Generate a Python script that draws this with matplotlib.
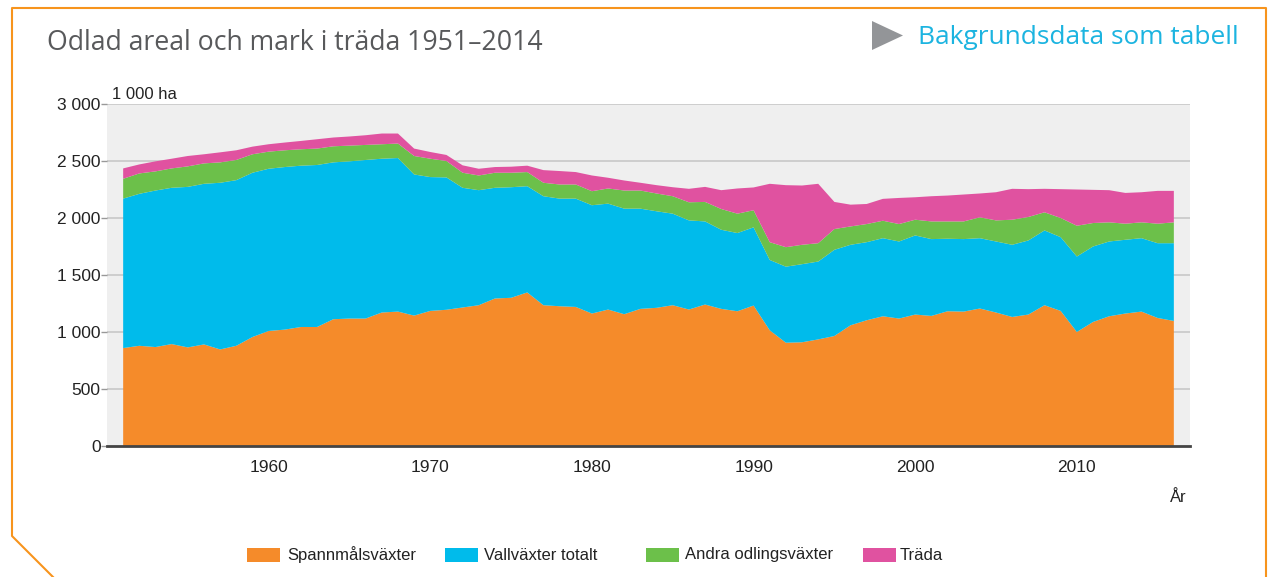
import matplotlib
matplotlib.use("Agg")
import matplotlib.pyplot as plt
from matplotlib.lines import Line2D
from matplotlib.patches import Rectangle, Polygon
import numpy as np

years = list(range(1951, 2017))

spannmal = [859, 879, 868, 894, 865, 891, 847, 879, 956, 1009,
            1021, 1044, 1044, 1112, 1118, 1118, 1171, 1179, 1144, 1185,
            1195, 1215, 1235, 1294, 1300, 1347, 1235, 1226, 1220, 1162,
            1197, 1156, 1203, 1212, 1235, 1197, 1241, 1203, 1182, 1232,
            1015, 906, 910, 935, 965, 1059, 1103, 1138, 1118, 1153,
            1141, 1182, 1179, 1206, 1171, 1132, 1153, 1235, 1185, 1000,
            1088, 1138, 1162, 1179, 1123, 1097]

vall = [1311, 1333, 1373, 1371, 1408, 1409, 1462, 1453, 1441, 1423,
        1426, 1415, 1421, 1376, 1379, 1391, 1349, 1347, 1238, 1174,
        1161, 1050, 1009, 971, 970, 932, 956, 944, 950, 950,
        929, 926, 879, 847, 803, 782, 729, 694, 686, 686,
        617, 667, 685, 683, 756, 706, 685, 685, 676, 694,
        674, 636, 636, 617, 623, 633, 650, 656, 647, 662,
        662, 656, 647, 644, 656, 682]

andra = [174, 179, 168, 170, 180, 179, 179, 177, 162, 150,
         147, 144, 144, 141, 138, 132, 127, 127, 162, 161,
         144, 132, 129, 132, 127, 124, 118, 124, 124, 123,
         133, 159, 159, 156, 153, 159, 171, 182, 170, 150,
         156, 171, 170, 161, 182, 161, 159, 153, 153, 138,
         155, 152, 155, 183, 185, 220, 206, 159, 168, 270,
         206, 168, 141, 139, 171, 183]

trada = [91, 79, 88, 85, 91, 80, 88, 85, 67, 65,
         68, 73, 82, 77, 80, 85, 94, 88, 65, 59,
         53, 65, 59, 50, 53, 56, 111, 118, 109, 138,
         94, 88, 68, 73, 79, 118, 132, 165, 221, 200,
         512, 544, 520, 521, 238, 191, 176, 192, 229, 197,
         221, 227, 236, 209, 247, 271, 244, 206, 253, 318,
         291, 282, 270, 264, 288, 276]

series_names = ["Spannmålsväxter", "Vallväxter totalt", "Andra odlingsväxter", "Träda"]
colors = ["#F58B2A", "#00BBEB", "#6CC04A", "#E052A0"]

yticks = [0, 500, 1000, 1500, 2000, 2500, 3000]
ytick_labels = ["0", "500", "1 000", "1 500", "2 000", "2 500", "3 000"]
xticks = [1960, 1970, 1980, 1990, 2000, 2010]

title = "Odlad areal och mark i träda 1951–2014"
link_text = "Bakgrundsdata som tabell"
unit_label = "1 000 ha"
x_label = "År"

W, H = 1272, 577
fig = plt.figure(figsize=(W / 100, H / 100), dpi=100)
fig.patch.set_facecolor("white")

def fx(px):
    return px / W

def fy(py):
    return 1 - py / H

ax = fig.add_axes([fx(107), fy(446), fx(1190) - fx(107), fy(104) - fy(446)])
ax.set_facecolor("#EFEFEF")
ax.stackplot(years, spannmal, vall, andra, trada, colors=colors, linewidth=0, zorder=2)
ax.set_xlim(1950.0, 2017.0)
ax.set_ylim(0, 3000)

ax.set_yticks(yticks)
ax.set_yticklabels(ytick_labels)
ax.set_xticks(xticks)
ax.set_xticklabels([str(x) for x in xticks])
for v in yticks[1:]:
    ax.axhline(v, color="#C8C8C8", linewidth=1.2, zorder=1)

for s in ["top", "right", "left"]:
    ax.spines[s].set_visible(False)
ax.spines["bottom"].set_color("#444444")
ax.spines["bottom"].set_linewidth(2)
ax.spines["bottom"].set_zorder(5)

ax.tick_params(axis="y", length=4, width=1, color="#999999", pad=0.5,
               labelsize=12.5, labelcolor="#222222")
ax.tick_params(axis="x", length=0, pad=10, labelsize=12.5, labelcolor="#222222")
for lab in ax.get_xticklabels() + ax.get_yticklabels():
    lab.set_fontfamily("Liberation Sans")

# unit label
fig.text(fx(112), fy(95), unit_label, fontsize=12, family="Liberation Sans",
         color="#222222", va="center", ha="left")
# x label
fig.text(fx(1178), fy(498), x_label, fontsize=12, family="Liberation Sans",
         color="#222222", va="center", ha="center")

# title
fig.text(fx(47), fy(43), title, fontsize=19.2, family="Open Sans",
         color="#58595B", va="center", ha="left")

# link
tri = Polygon([[fx(872), fy(21)], [fx(872), fy(50)], [fx(903), fy(35.5)]],
              closed=True, transform=fig.transFigure, facecolor="#939598",
              edgecolor="none")
fig.patches.append(tri)
fig.text(fx(918), fy(37), link_text, fontsize=18.9, family="Open Sans",
         color="#1CB4E0", va="center", ha="left")

# frame
frame_x = [53, 12, 12, 1266, 1266]
frame_y = [577, 536, 8, 8, 577]
fig.add_artist(Line2D([fx(v) for v in frame_x], [fy(v) for v in frame_y],
                      transform=fig.transFigure, color="#F7941D", linewidth=1.5))

# legend
patch_x = [247, 445, 646, 863]
text_x = [287, 484, 685, 900]
for name, col, px, tx in zip(series_names, colors, patch_x, text_x):
    fig.patches.append(Rectangle((fx(px), fy(562)), fx(33), fy(548) - fy(562),
                                 transform=fig.transFigure, facecolor=col,
                                 edgecolor="none"))
    fig.text(fx(tx), fy(555), name, fontsize=12, family="Liberation Sans",
             color="#222222", va="center", ha="left")

fig.savefig("out.png", dpi=100)
